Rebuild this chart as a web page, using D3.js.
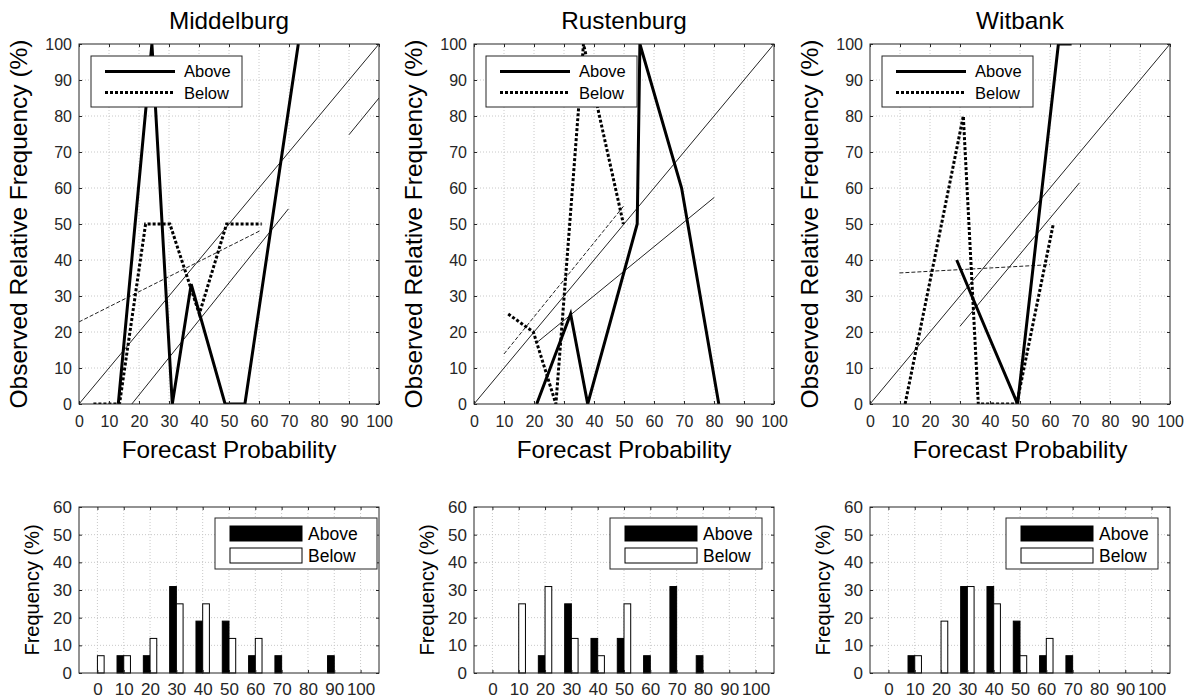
<!DOCTYPE html>
<html>
<head>
<meta charset="utf-8">
<script src="https://cdn.jsdelivr.net/npm/d3@7"></script>
<style>
  html, body { margin: 0; padding: 0; background: #fff; }
  svg { display: block; font-family: "Liberation Sans", Arial, Helvetica, sans-serif; }
</style>
</head>
<body>
<svg id="chart" width="1192" height="700"></svg>
<script>
// ---------------- DATA ----------------
const cities = ["Middelburg", "Rustenburg", "Witbank"];
const probTicks = [0, 10, 20, 30, 40, 50, 60, 70, 80, 90, 100];
const freqTicks = [0, 10, 20, 30, 40, 50, 60];
const binCenters = [0, 10, 20, 30, 40, 50, 60, 70, 80, 90, 100];
const seriesNames = ["Above", "Below"];

// Histograms: frequency (%) of forecasts in each probability bin
const histAboveMiddelburg = [0, 6.25, 6.25, 31.25, 18.75, 18.75, 6.25, 6.25, 0, 6.25, 0];
const histBelowMiddelburg = [6.25, 6.25, 12.5, 25, 25, 12.5, 12.5, 0, 0, 0, 0];
const histAboveRustenburg = [0, 0, 6.25, 25, 12.5, 12.5, 6.25, 31.25, 6.25, 0, 0];
const histBelowRustenburg = [0, 25, 31.25, 12.5, 6.25, 25, 0, 0, 0, 0, 0];
const histAboveWitbank = [0, 6.25, 0, 31.25, 31.25, 18.75, 6.25, 6.25, 0, 0, 0];
const histBelowWitbank = [0, 6.25, 18.75, 31.25, 25, 6.25, 12.5, 0, 0, 0, 0];

// Reliability curves: mean forecast probability (x) vs observed relative frequency (y)
const relAboveMiddelburgX = [13.1, 24.3, 31.1, 37.4, 48.7, 55.3, 73.1];
const relAboveMiddelburgY = [0, 100, 0, 33.3, 0, 0, 100];
const relBelowMiddelburgX = [4.8, 13.5, 22.2, 30.3, 40.1, 49.2, 60.9];
const relBelowMiddelburgY = [0, 0, 50, 50, 25, 50, 50];

const relAboveRustenburgX = [20.9, 32.2, 37.9, 54.4, 55.3, 69.2, 81.6];
const relAboveRustenburgY = [0, 25, 0, 50, 100, 60, 0];
const relBelowRustenburgX = [11.4, 19.8, 27.3, 36.5, 49.8];
const relBelowRustenburgY = [25, 20, 0, 100, 50];

const relAboveWitbankX = [28.9, 39, 49.2, 62.8, 67.2];
const relAboveWitbankY = [40, 20, 0, 100, 100];
const relBelowWitbankX = [11.7, 19.8, 31.1, 36.1, 48.9, 61.1];
const relBelowWitbankY = [0, 33.3, 80, 0, 0, 50];

// Fitted (regression) lines; NaN marks a gap
const fitAboveMiddelburgX = [17.6, 69.8, NaN, 90, 100];
const fitAboveMiddelburgY = [0, 54.2, NaN, 74.8, 85];
const fitBelowMiddelburgX = [0, 60.3];
const fitBelowMiddelburgY = [22.8, 48.1];

const fitAboveRustenburgX = [20.7, 80.1];
const fitAboveRustenburgY = [16.9, 57.4];
const fitBelowRustenburgX = [10, 50];
const fitBelowRustenburgY = [13.9, 55.1];

const fitAboveWitbankX = [30, 69.8];
const fitAboveWitbankY = [21.6, 61.4];
const fitBelowWitbankX = [9.8, 60];
const fitBelowWitbankY = [36.4, 38.7];

const diagonalX = [0, 100];
const diagonalY = [0, 100];

// build per-panel tables from the arrays
const zip = (xs, ys) => xs.map((x, i) => ({ x: x, y: ys[i] }));
const panels = [
  {
    name: cities[0],
    histA: histAboveMiddelburg, histB: histBelowMiddelburg,
    relA: zip(relAboveMiddelburgX, relAboveMiddelburgY), relB: zip(relBelowMiddelburgX, relBelowMiddelburgY),
    fitA: zip(fitAboveMiddelburgX, fitAboveMiddelburgY), fitB: zip(fitBelowMiddelburgX, fitBelowMiddelburgY)
  },
  {
    name: cities[1],
    histA: histAboveRustenburg, histB: histBelowRustenburg,
    relA: zip(relAboveRustenburgX, relAboveRustenburgY), relB: zip(relBelowRustenburgX, relBelowRustenburgY),
    fitA: zip(fitAboveRustenburgX, fitAboveRustenburgY), fitB: zip(fitBelowRustenburgX, fitBelowRustenburgY)
  },
  {
    name: cities[2],
    histA: histAboveWitbank, histB: histBelowWitbank,
    relA: zip(relAboveWitbankX, relAboveWitbankY), relB: zip(relBelowWitbankX, relBelowWitbankY),
    fitA: zip(fitAboveWitbankX, fitAboveWitbankY), fitB: zip(fitBelowWitbankX, fitBelowWitbankY)
  }
];

// ---------------- LAYOUT ----------------
const lefts = [79, 474, 870];
const plotW = 300;
const topY = 44, topH = 360;
const botY = 507, botH = 166;
const histLegendW = [162, 152, 152];

const axisColor = "#262626";
const gridColor = "#c8c8c8";

const svg = d3.select("#chart");

function styleAxis(g, fontSize) {
  g.select(".domain").remove();
  g.selectAll(".tick line").attr("stroke", axisColor).attr("stroke-width", 1);
  g.selectAll(".tick text").attr("fill", axisColor).style("font-size", fontSize + "px")
    .style("font-family", "'Liberation Sans', Arial, sans-serif");
}

panels.forEach((p, i) => {
  const L = lefts[i];

  // ======== TOP: reliability diagram ========
  const x = d3.scaleLinear().domain([0, 100]).range([L, L + plotW]);
  const y = d3.scaleLinear().domain([0, 100]).range([topY + topH, topY]);

  const gT = svg.append("g");
  const clipId = "clipTop" + i;
  svg.append("clipPath").attr("id", clipId)
    .append("rect").attr("x", L).attr("y", topY).attr("width", plotW).attr("height", topH);

  // grid
  gT.append("g").selectAll("line.gx").data(probTicks.slice(1, -1)).join("line")
    .attr("x1", d => x(d)).attr("x2", d => x(d)).attr("y1", topY).attr("y2", topY + topH)
    .attr("stroke", gridColor).attr("stroke-width", 1).attr("stroke-dasharray", "1,2");
  gT.append("g").selectAll("line.gy").data(probTicks.slice(1, -1)).join("line")
    .attr("y1", d => y(d)).attr("y2", d => y(d)).attr("x1", L).attr("x2", L + plotW)
    .attr("stroke", gridColor).attr("stroke-width", 1).attr("stroke-dasharray", "1,2");

  const line = d3.line().defined(d => !isNaN(d.x) && !isNaN(d.y)).x(d => x(d.x)).y(d => y(d.y));
  const plotG = gT.append("g").attr("clip-path", `url(#${clipId})`);

  // diagonal
  plotG.append("path").datum(zip(diagonalX, diagonalY)).attr("d", line)
    .attr("fill", "none").attr("stroke", "#222").attr("stroke-width", 1);
  // fitted lines
  plotG.append("path").datum(p.fitA).attr("d", line)
    .attr("fill", "none").attr("stroke", "#222").attr("stroke-width", 1);
  plotG.append("path").datum(p.fitB).attr("d", line)
    .attr("fill", "none").attr("stroke", "#222").attr("stroke-width", 1).attr("stroke-dasharray", "4,2");
  // reliability curves
  plotG.append("path").datum(p.relB).attr("d", line)
    .attr("fill", "none").attr("stroke", "#000").attr("stroke-width", 3).attr("stroke-dasharray", "3,2");
  plotG.append("path").datum(p.relA).attr("d", line)
    .attr("fill", "none").attr("stroke", "#000").attr("stroke-width", 3).attr("stroke-linejoin", "miter");

  // axes
  const ax = gT.append("g").attr("transform", `translate(0,${topY + topH})`)
    .call(d3.axisBottom(x).tickValues(probTicks).tickSize(-3).tickPadding(12));
  styleAxis(ax, 16);
  const axT = gT.append("g").attr("transform", `translate(0,${topY})`)
    .call(d3.axisTop(x).tickValues(probTicks).tickSize(-3).tickFormat(""));
  styleAxis(axT, 16);
  const ay = gT.append("g").attr("transform", `translate(${L},0)`)
    .call(d3.axisLeft(y).tickValues(probTicks).tickSize(-3).tickPadding(7));
  styleAxis(ay, 16);
  const ayR = gT.append("g").attr("transform", `translate(${L + plotW},0)`)
    .call(d3.axisRight(y).tickValues(probTicks).tickSize(-3).tickFormat(""));
  styleAxis(ayR, 16);
  gT.append("rect").attr("x", L).attr("y", topY).attr("width", plotW).attr("height", topH)
    .attr("fill", "none").attr("stroke", axisColor).attr("stroke-width", 1);

  // legend
  const lg = gT.append("g").attr("transform", `translate(${L + 12},56)`);
  lg.append("rect").attr("width", 151).attr("height", 51).attr("fill", "#fff")
    .attr("stroke", axisColor).attr("stroke-width", 1);
  lg.append("line").attr("x1", 14).attr("x2", 84).attr("y1", 15.5).attr("y2", 15.5)
    .attr("stroke", "#000").attr("stroke-width", 3);
  lg.append("line").attr("x1", 14).attr("x2", 84).attr("y1", 36.5).attr("y2", 36.5)
    .attr("stroke", "#000").attr("stroke-width", 3).attr("stroke-dasharray", "3,2");
  lg.selectAll("text").data(seriesNames).join("text")
    .attr("x", 93).attr("y", (d, k) => 21 + k * 21.5)
    .attr("fill", "#000").style("font-size", "16.5px").text(d => d);

  // titles / labels
  svg.append("text").attr("x", L + plotW / 2).attr("y", 29).attr("text-anchor", "middle")
    .attr("fill", "#000").style("font-size", "24.3px").text(p.name);
  svg.append("text").attr("x", L + plotW / 2).attr("y", 458).attr("text-anchor", "middle")
    .attr("fill", "#000").style("font-size", "24.3px").text("Forecast Probability");
  svg.append("text").attr("transform", `translate(${L - 52},${topY + topH / 2}) rotate(-90)`)
    .attr("text-anchor", "middle").attr("fill", "#000").style("font-size", "24.5px")
    .text("Observed Relative Frequency (%)");

  // ======== BOTTOM: histogram ========
  const xb = d3.scaleLinear().domain([-7, 107]).range([L, L + plotW]);
  const yb = d3.scaleLinear().domain([0, 60]).range([botY + botH, botY]);
  const gB = svg.append("g");

  gB.append("g").selectAll("line").data(binCenters).join("line")
    .attr("x1", d => xb(d)).attr("x2", d => xb(d)).attr("y1", botY).attr("y2", botY + botH)
    .attr("stroke", gridColor).attr("stroke-width", 1).attr("stroke-dasharray", "1,2");
  gB.append("g").selectAll("line").data(freqTicks.slice(1, -1)).join("line")
    .attr("y1", d => yb(d)).attr("y2", d => yb(d)).attr("x1", L).attr("x2", L + plotW)
    .attr("stroke", gridColor).attr("stroke-width", 1).attr("stroke-dasharray", "1,2");

  const bw = xb(2.55) - xb(0);
  gB.append("g").selectAll("rect").data(binCenters.map((c, k) => ({ c: c, v: p.histA[k] })).filter(d => d.v > 0))
    .join("rect")
    .attr("x", d => xb(d.c) - bw).attr("width", bw)
    .attr("y", d => yb(d.v)).attr("height", d => yb(0) - yb(d.v))
    .attr("fill", "#000").attr("stroke", "#000").attr("stroke-width", 1);
  gB.append("g").selectAll("rect").data(binCenters.map((c, k) => ({ c: c, v: p.histB[k] })).filter(d => d.v > 0))
    .join("rect")
    .attr("x", d => xb(d.c)).attr("width", bw)
    .attr("y", d => yb(d.v)).attr("height", d => yb(0) - yb(d.v))
    .attr("fill", "#fff").attr("stroke", "#000").attr("stroke-width", 1);

  const bx = gB.append("g").attr("transform", `translate(0,${botY + botH})`)
    .call(d3.axisBottom(xb).tickValues(binCenters).tickSize(-3).tickPadding(10));
  styleAxis(bx, 17);
  const bxT = gB.append("g").attr("transform", `translate(0,${botY})`)
    .call(d3.axisTop(xb).tickValues(binCenters).tickSize(-3).tickFormat(""));
  styleAxis(bxT, 17);
  const by = gB.append("g").attr("transform", `translate(${L},0)`)
    .call(d3.axisLeft(yb).tickValues(freqTicks).tickSize(-3).tickPadding(7));
  styleAxis(by, 17);
  const byR = gB.append("g").attr("transform", `translate(${L + plotW},0)`)
    .call(d3.axisRight(yb).tickValues(freqTicks).tickSize(-3).tickFormat(""));
  styleAxis(byR, 17);
  gB.append("rect").attr("x", L).attr("y", botY).attr("width", plotW).attr("height", botH)
    .attr("fill", "none").attr("stroke", axisColor).attr("stroke-width", 1);

  // legend
  const lb = gB.append("g").attr("transform", `translate(${L + 136},518)`);
  lb.append("rect").attr("width", histLegendW[i]).attr("height", 51).attr("fill", "#fff")
    .attr("stroke", axisColor).attr("stroke-width", 1);
  lb.append("rect").attr("x", 15).attr("y", 8).attr("width", 72).attr("height", 15)
    .attr("fill", "#000").attr("stroke", "#000");
  lb.append("rect").attr("x", 15).attr("y", 30).attr("width", 72).attr("height", 15)
    .attr("fill", "#fff").attr("stroke", "#000");
  lb.selectAll("text").data(seriesNames).join("text")
    .attr("x", 93).attr("y", (d, k) => 22 + k * 22)
    .attr("fill", "#000").style("font-size", "17.5px").text(d => d);

  svg.append("text").attr("transform", `translate(${L - 40},${botY + botH / 2}) rotate(-90)`)
    .attr("text-anchor", "middle").attr("fill", "#000").style("font-size", "20px")
    .text("Frequency (%)");
});
</script>
</body>
</html>
